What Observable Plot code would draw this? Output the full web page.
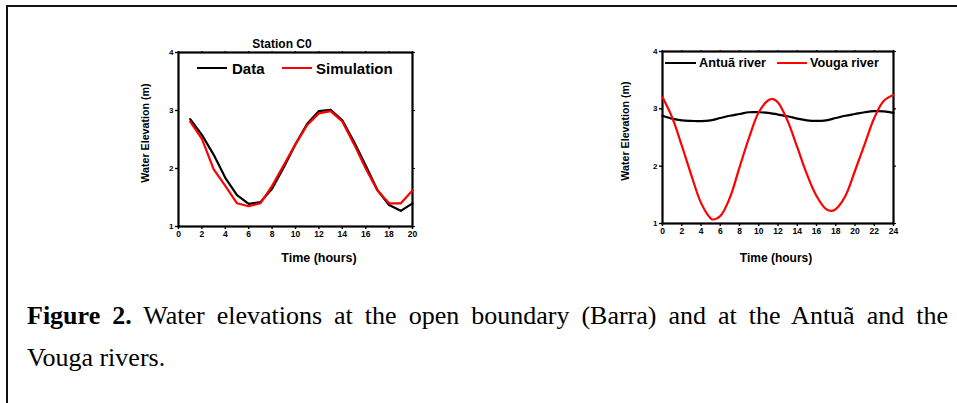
<!DOCTYPE html>
<html>
<head>
<meta charset="utf-8">
<script src="https://cdn.jsdelivr.net/npm/d3@7"></script>
<script src="https://cdn.jsdelivr.net/npm/@observablehq/plot@0.6"></script>
<style>
  html, body { margin: 0; padding: 0; background: #fff; }
  #page { position: relative; width: 957px; height: 403px; overflow: hidden; background: #fff; }
  .abs { position: absolute; white-space: nowrap; line-height: 1; }
  .sans { font-family: "Liberation Sans", Arial, sans-serif; font-weight: bold; color: #000; }
  .ctr { transform: translate(-50%, -50%); }
  .rot { transform: translate(-50%, -50%) rotate(-90deg); }
  .vmid { transform: translateY(-50%); }
  .leg { position: absolute; height: 2.6px; }
  #frame { position: absolute; left: 6px; top: 5px; width: 1000px; height: 500px; border-left: 2px solid #111; border-top: 2px solid #111; }
  #cap { position: absolute; left: 27px; top: 301px; width: 921px; font-family: "Liberation Serif", "Times New Roman", Times, serif; font-size: 26px; color: #000; }
  #cap .l1 { text-align: justify; text-align-last: justify; white-space: nowrap; height: 30px; line-height: 30px; }
  #cap .l2 { margin-top: 12px; line-height: 30px; }
</style>
</head>
<body>
<div id="page">
  <div id="frame"></div>
  <div id="chartL" class="abs" style="left:130px; top:30px;"></div>
  <div id="chartR" class="abs" style="left:610px; top:30px;"></div>
  <div id="overlay"></div>
  <div id="cap">
    <div class="l1"><b>Figure 2.</b> Water elevations at the open boundary (Barra) and at the Antuã and the</div>
    <div class="l2">Vouga rivers.</div>
  </div>
</div>
<script>
// ---- Data ----
const hoursC0 = [1,2,3,4,5,6,7,8,9,10,11,12,13,14,15,16,17,18,19,20];
const dataC0  = [2.85,2.58,2.24,1.84,1.54,1.39,1.42,1.65,2.02,2.42,2.77,2.99,3.01,2.83,2.46,2.05,1.63,1.37,1.27,1.40];
const simC0   = [2.81,2.51,1.99,1.70,1.40,1.35,1.40,1.70,2.06,2.42,2.75,2.95,2.99,2.81,2.42,2.00,1.62,1.40,1.40,1.62];

const antuaHours = [0,1,2,3,4,5,6,7,8,9,10,11,12,13,14,15,16,17,18,19,20,21,22,23,24];
const antua      = [2.88,2.83,2.80,2.79,2.785,2.80,2.84,2.88,2.91,2.94,2.94,2.93,2.90,2.87,2.83,2.80,2.79,2.80,2.84,2.88,2.91,2.94,2.96,2.955,2.93];

const vougaHours = [0,1,2,3,4,5,5.2,6,7,8,9,10,11,11.5,12,13,14,15,16,17,17.6,18,19,20,21,22,23,24];
const vouga      = [3.20,2.85,2.36,1.84,1.36,1.09,1.07,1.13,1.45,1.98,2.50,2.94,3.15,3.17,3.11,2.79,2.33,1.86,1.48,1.25,1.22,1.25,1.48,1.92,2.38,2.84,3.14,3.24];

const xTicksL = [0,2,4,6,8,10,12,14,16,18,20];
const xTicksR = [0,2,4,6,8,10,12,14,16,18,20,22,24];
const yTicks  = [1,2,3,4];

const titleL = "Station C0";
const yTitle = "Water Elevation (m)";
const xTitle = "Time (hours)";
const legendL = [{name: "Data", color: "#000"}, {name: "Simulation", color: "#f00"}];
const legendR = [{name: "Antuã river", color: "#000"}, {name: "Vouga river", color: "#f00"}];

const c0 = hoursC0.map((h, i) => ({h, data: dataC0[i], sim: simC0[i]}));
const an = antuaHours.map((h, i) => ({h, v: antua[i]}));
const vo = vougaHours.map((h, i) => ({h, v: vouga[i]}));

const fmtInt = d3.format("d");

function axes(xt) {
  return [
    Plot.axisX({ticks: xt, tickFormat: fmtInt, tickSize: 3, tickPadding: 1, fontSize: 8.5, fontWeight: "bold", strokeWidth: 1.4, label: null}),
    Plot.axisX({anchor: "top", ticks: xt, tickSize: 2, tickFormat: () => "", strokeWidth: 1.2, label: null}),
    Plot.axisY({ticks: yTicks, tickFormat: fmtInt, tickSize: 3, tickPadding: 2, fontSize: 8, fontWeight: "bold", strokeWidth: 1.4, label: null}),
    Plot.axisY({anchor: "right", ticks: yTicks, tickSize: 2, tickFormat: () => "", strokeWidth: 1.2, label: null}),
    Plot.frame({stroke: "#000", strokeWidth: 2.2})
  ];
}

const style = {fontFamily: "Liberation Sans, Arial, sans-serif", fontWeight: "bold", background: "transparent", color: "#000"};

const left = Plot.plot({
  width: 300, height: 240,
  marginLeft: 48, marginTop: 22, marginRight: 18, marginBottom: 44,
  x: {domain: [0, 20]},
  y: {domain: [1, 4]},
  style,
  marks: [
    ...axes(xTicksL),
    Plot.line(c0, {x: "h", y: "data", stroke: "#000", strokeWidth: 2.2}),
    Plot.line(c0, {x: "h", y: "sim", stroke: "#f00", strokeWidth: 2.2})
  ]
});
document.getElementById("chartL").appendChild(left);

const right = Plot.plot({
  width: 320, height: 240,
  marginLeft: 52, marginTop: 21, marginRight: 37, marginBottom: 47,
  x: {domain: [0, 24]},
  y: {domain: [1, 4]},
  style,
  marks: [
    ...axes(xTicksR),
    Plot.line(an, {x: "h", y: "v", stroke: "#000", strokeWidth: 2.2, curve: "catmull-rom"}),
    Plot.line(vo, {x: "h", y: "v", stroke: "#f00", strokeWidth: 2.2, curve: "catmull-rom"})
  ]
});
document.getElementById("chartR").appendChild(right);

// ---- Titles and legends (HTML overlay) ----
const ov = document.getElementById("overlay");
function txt(s, x, y, size, cls) {
  const d = document.createElement("div");
  d.className = "abs sans " + cls;
  d.style.left = x + "px"; d.style.top = y + "px"; d.style.fontSize = size + "px";
  d.textContent = s;
  ov.appendChild(d);
}
function seg(x1, x2, y, color) {
  const d = document.createElement("div");
  d.className = "leg";
  d.style.left = x1 + "px"; d.style.width = (x2 - x1) + "px"; d.style.top = (y - 1.3) + "px";
  d.style.background = color;
  ov.appendChild(d);
}
txt(titleL, 282, 44, 12, "ctr");
txt(yTitle, 145, 133, 10.7, "rot");
txt(yTitle, 625, 131, 10.7, "rot");
txt(xTitle, 319, 258, 12.5, "ctr");
txt(xTitle, 776, 258, 12, "ctr");

seg(197, 227, 68, legendL[0].color); txt(legendL[0].name, 232, 68, 15, "vmid");
seg(282, 312, 68, legendL[1].color); txt(legendL[1].name, 316, 68, 15, "vmid");
seg(665, 696, 63, legendR[0].color); txt(legendR[0].name, 699, 63, 12.7, "vmid");
seg(777, 807, 63, legendR[1].color); txt(legendR[1].name, 810, 63, 12.7, "vmid");
</script>
</body>
</html>
